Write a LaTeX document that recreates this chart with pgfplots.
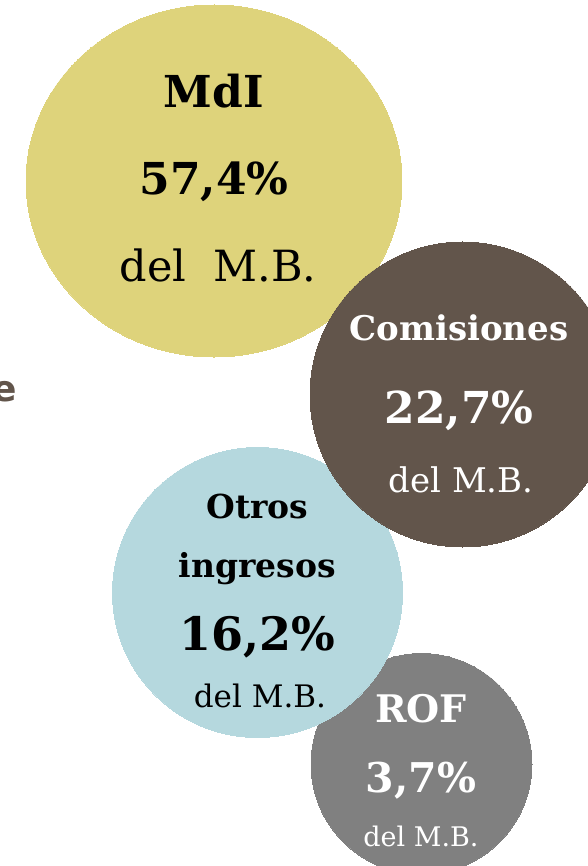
\documentclass[border=0pt]{standalone}
\usepackage{pgfplots}
\pgfplotsset{compat=1.18}
\usepackage{fontspec}
\setmainfont{DejaVu Serif}
\newfontfamily\sansbold{DejaVu Sans}
\definecolor{mdi}{HTML}{DED37B}
\definecolor{com}{HTML}{62554B}
\definecolor{otros}{HTML}{B5D8DE}
\definecolor{rof}{HTML}{808080}
\newcommand{\fs}[1]{\fontsize{#1}{#1}\selectfont}
\begin{document}
\begin{tikzpicture}
\begin{axis}[
  hide axis, scale only axis,
  width=588pt, height=866pt,
  xmin=0, xmax=588, ymin=0, ymax=866,
  y dir=reverse, clip=false,
]
% ROF
\addplot[only marks, mark=*, mark size=110.5pt,
  mark options={draw=rof, fill=rof, line width=0pt}] coordinates {(421.5,764)};
% Otros ingresos
\addplot[only marks, mark=*, mark size=145pt,
  mark options={draw=otros, fill=otros, line width=0pt}] coordinates {(257.5,592.5)};
% MdI
\addplot[only marks, mark=*, mark size=176pt,
  mark options={xscale=1.068, draw=mdi, fill=mdi, line width=0pt}] coordinates {(214,181)};
% Comisiones
\addplot[only marks, mark=*, mark size=152.5pt,
  mark options={draw=com, fill=com, line width=0pt}] coordinates {(462.5,394.5)};

\coordinate (m1) at (axis cs:214,108);
\coordinate (m2) at (axis cs:214,195);
\coordinate (m3) at (axis cs:218,282);
\coordinate (c1) at (axis cs:459,341);
\coordinate (c2) at (axis cs:459,424);
\coordinate (c3) at (axis cs:461,493);
\coordinate (o1) at (axis cs:257.5,519);
\coordinate (o2) at (axis cs:257.5,578);
\coordinate (o3) at (axis cs:257.5,651);
\coordinate (o4) at (axis cs:260,708);
\coordinate (r1) at (axis cs:421,723);
\coordinate (r2) at (axis cs:421,793);
\coordinate (r3) at (axis cs:421,847);
\coordinate (e1) at (axis cs:17,402);
\end{axis}
% MdI labels
\node[anchor=base, font=\fs{44}\bfseries, text=black] at (m1) {MdI};
\node[anchor=base, font=\fs{44}\bfseries, text=black] at (m2) {57,4\%};
\node[anchor=base, font=\fs{43}, text=black] at (m3) {del\ \ M.B.};
% Comisiones labels
\node[anchor=base, font=\fs{34}\bfseries, text=white] at (c1) {Comisiones};
\node[anchor=base, font=\fs{44}\bfseries, text=white] at (c2) {22,7\%};
\node[anchor=base, font=\fs{34}, text=white] at (c3) {del M.B.};
% Otros labels
\node[anchor=base, font=\fs{33}\bfseries, text=black] at (o1) {Otros};
\node[anchor=base, font=\fs{33}\bfseries, text=black] at (o2) {ingresos};
\node[anchor=base, font=\fs{46}\bfseries, text=black] at (o3) {16,2\%};
\node[anchor=base, font=\fs{31}, text=black] at (o4) {del M.B.};
% ROF labels
\node[anchor=base, font=\fs{38}\bfseries, text=white] at (r1) {ROF};
\node[anchor=base, font=\fs{41}\bfseries, text=white] at (r2) {3,7\%};
\node[anchor=base, font=\fs{27}, text=white] at (r3) {del M.B.};
% cut-off text at left edge
\node[anchor=base east, inner sep=0pt, font=\sansbold\fs{36}\bfseries, text=com] at (e1) {e};
\pgfresetboundingbox
\useasboundingbox (current axis.south west) rectangle (current axis.north east);
\end{tikzpicture}
\end{document}
